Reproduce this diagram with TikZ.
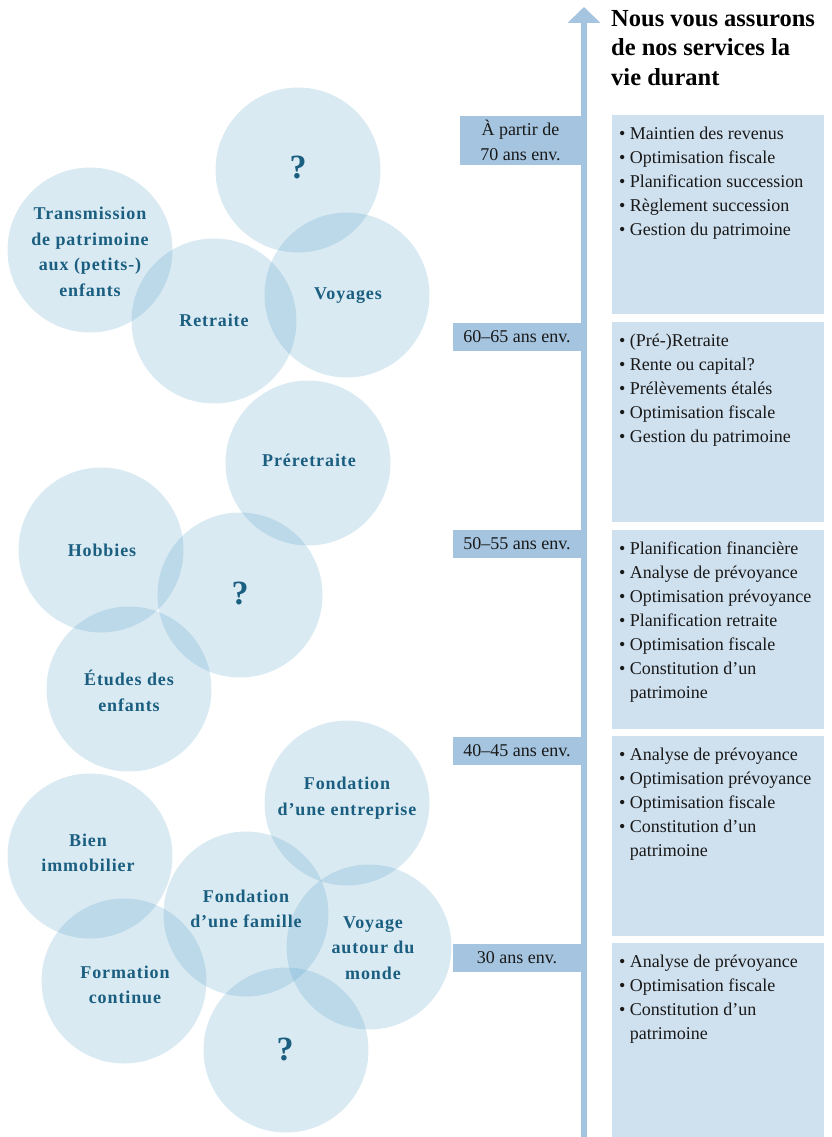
\documentclass[tikz,border=0pt]{standalone}
\usepackage{fontspec}
\setmainfont{Liberation Serif}
\newfontfamily\bubblefont[LetterSpace=5]{Liberation Serif}
\usetikzlibrary{arrows.meta}

\definecolor{bubblefill}{RGB}{70,150,195}
\definecolor{bubbletext}{RGB}{26,94,128}
\definecolor{axisblue}{RGB}{164,196,223}
\definecolor{servicebg}{RGB}{207,224,238}
\definecolor{bodytext}{RGB}{25,25,25}

\begin{document}
\begin{tikzpicture}[
    x=1pt, y=-1pt,
    bubble/.style={
        circle,
        fill=bubblefill,
        fill opacity=0.2,
        minimum size=165pt,
        inner sep=0pt
    },
    bubblelabel/.style={
        align=center,
        inner sep=0pt,
        text=bubbletext,
        font=\bubblefont\bfseries\fontsize{18}{25.5}\selectfont
    },
    query/.style={
        inner sep=0pt,
        text=bubbletext,
        font=\bfseries\fontsize{34}{34}\selectfont
    },
    agebox/.style={
        fill=axisblue,
        align=center,
        inner sep=0pt,
        minimum width=128pt,
        minimum height=28pt,
        text=bodytext,
        font=\fontsize{18}{25}\selectfont
    },
    servicebox/.style={
        fill=servicebg,
        inner sep=0pt,
        minimum width=212pt,
        minimum height=199pt
    },
    servicelist/.style={
        anchor=north west,
        align=left,
        inner sep=0pt,
        text=bodytext,
        font=\fontsize{18}{24}\selectfont
    }
]
    \useasboundingbox (0,0) rectangle (832,1137);

    % life events
    \node[bubble] (cq1)    at (298,170) {};
    \node[bubble] (ctrans) at (90,250) {};
    \node[bubble] (cretr)  at (214,321) {};
    \node[bubble] (cvoy)   at (347,295) {};
    \node[bubble] (cpre)   at (308,463) {};
    \node[bubble] (chob)   at (101,550) {};
    \node[bubble] (cq2)    at (240,595) {};
    \node[bubble] (cetu)   at (129,689) {};
    \node[bubble] (cfent)  at (347,803) {};
    \node[bubble] (cbien)  at (90,856) {};
    \node[bubble] (cffam)  at (246,914) {};
    \node[bubble] (cvam)   at (369,947) {};
    \node[bubble] (cform)  at (124,981) {};
    \node[bubble] (cq3)    at (286,1050) {};

    \node[query] (tq1) at (298,167) {?};
    \node[bubblelabel] (ttrans) at (90,252) {Transmission\\de patrimoine\\aux (petits-)\\enfants};
    \node[bubblelabel] (tretr) at (214,320) {Retraite};
    \node[bubblelabel] (tvoy) at (348,296) {Voyages};
    \node[bubblelabel] (tpre) at (309,460) {Préretraite};
    \node[bubblelabel] (thob) at (102,550) {Hobbies};
    \node[query] (tq2) at (240,593) {?};
    \node[bubblelabel] (tetu) at (129,691) {Études des\\enfants};
    \node[bubblelabel] (tfent) at (347,798) {Fondation\\d’une entreprise};
    \node[bubblelabel] (tbien) at (88,853) {Bien\\immobilier};
    \node[bubblelabel] (tffam) at (246,909) {Fondation\\d’une famille};
    \node[bubblelabel] (tvam) at (373,948) {Voyage\\autour du\\monde};
    \node[bubblelabel] (tform) at (125,985) {Formation\\continue};
    \node[query] (tq3) at (285,1049) {?};

    % age stages
    \node[agebox, minimum width=121pt, minimum height=49pt] (a70) at (520.5,140.5) {À partir de\\70 ans env.};
    \node[agebox] (a60) at (517,337) {60–65 ans env.};
    \node[agebox] (a50) at (517,544) {50–55 ans env.};
    \node[agebox] (a40) at (517,751) {40–45 ans env.};
    \node[agebox] (a30) at (517,958) {30 ans env.};

    % time axis
    \coordinate (axbot) at (584,1137);
    \coordinate (axtop) at (584,7);
    \draw[axisblue, line width=6pt, -{Triangle[width=32pt,length=16pt]}] (axbot) -- (axtop);

    \node[anchor=north west, align=left, inner sep=0pt, text=black,
          font=\bfseries\fontsize{24.5}{29.5}\selectfont] (title) at (611,10)
        {Nous vous assurons\\de nos services la\\vie durant};

    % services
    \node[servicebox] (s1) at (718,214.5) {};
    \node[servicebox, minimum height=200pt] (s2) at (718,422) {};
    \node[servicebox] (s3) at (718,629.5) {};
    \node[servicebox, minimum height=200pt] (s4) at (718,836) {};
    \node[servicebox, minimum height=200pt] (s5) at (718,1043) {};

    \node[servicelist] (l1) at ([shift={(7,12)}]s1.north west)
        {• Maintien des revenus\\• Optimisation fiscale\\• Planification succession\\• Règlement succession\\• Gestion du patrimoine};
    \node[servicelist] (l2) at ([shift={(7,12)}]s2.north west)
        {• (Pré-)Retraite\\• Rente ou capital?\\• Prélèvements étalés\\• Optimisation fiscale\\• Gestion du patrimoine};
    \node[servicelist] (l3) at ([shift={(7,12)}]s3.north west)
        {• Planification financière\\• Analyse de prévoyance\\• Optimisation prévoyance\\• Planification retraite\\• Optimisation fiscale\\• Constitution d’un\\\phantom{• }patrimoine};
    \node[servicelist] (l4) at ([shift={(7,12)}]s4.north west)
        {• Analyse de prévoyance\\• Optimisation prévoyance\\• Optimisation fiscale\\• Constitution d’un\\\phantom{• }patrimoine};
    \node[servicelist] (l5) at ([shift={(7,12)}]s5.north west)
        {• Analyse de prévoyance\\• Optimisation fiscale\\• Constitution d’un\\\phantom{• }patrimoine};
\end{tikzpicture}
\end{document}
